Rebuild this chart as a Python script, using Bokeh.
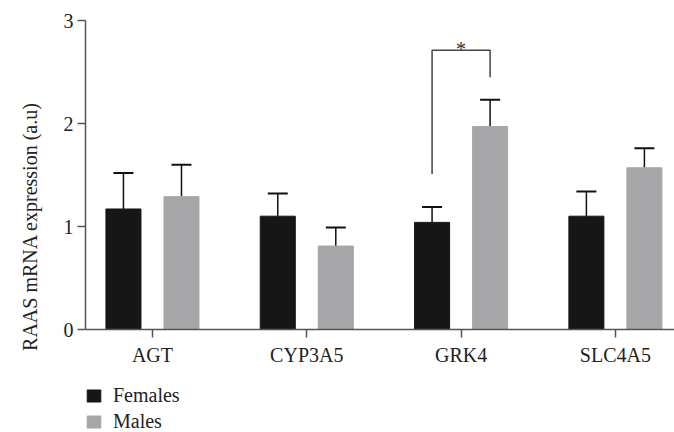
from bokeh.plotting import figure
from bokeh.models import Range1d, FixedTicker, Whisker, TeeHead, ColumnDataSource, Legend, LegendItem
from bokeh.embed import file_html
from bokeh.resources import INLINE

genes = ["AGT", "CYP3A5", "GRK4", "SLC4A5"]
females = [1.17, 1.10, 1.04, 1.10]
females_err = [1.52, 1.32, 1.19, 1.34]
males = [1.29, 0.81, 1.97, 1.57]
males_err = [1.60, 0.99, 2.23, 1.76]
y_ticks = [0, 1, 2, 3]
bracket_gene = 2
bracket_y = [1.51, 2.71, 2.71, 2.45]
sig_label = "*"

FONT = "Liberation Serif"
off = 0.188
bw = 0.227
idx = list(range(len(genes)))
xf = [i - off for i in idx]
xm = [i + off for i in idx]

p = figure(width=674, height=432, output_backend="svg", toolbar_location=None,
           x_range=Range1d(-0.434, 3.383), y_range=Range1d(-1.0, 3),
           min_border_left=85, min_border_right=0, min_border_top=20, min_border_bottom=0)
p.outline_line_color = None
p.xgrid.visible = False
p.ygrid.visible = False

rf = p.vbar(x=xf, top=females, width=bw, color="#161616")
rm = p.vbar(x=xm, top=males, width=bw, color="#a6a5a8")

for xs, lo, hi in [(xf, females, females_err), (xm, males, males_err)]:
    src = ColumnDataSource(dict(x=xs, lo=lo, hi=hi))
    w = Whisker(base="x", lower="lo", upper="hi", source=src, dimension="height",
                line_color="#111111", line_width=1.5, lower_head=None,
                upper_head=TeeHead(size=20, line_color="#111111", line_width=2))
    p.add_layout(w)

bx = [bracket_gene - off, bracket_gene - off, bracket_gene + off, bracket_gene + off]
p.line(bx, bracket_y, line_color="#444444", line_width=1.5)
p.text(x=[bracket_gene], y=[bracket_y[1]], text=[sig_label], text_align="center",
       text_baseline="alphabetic", y_offset=-1, text_font={"value": FONT},
       text_font_size="20px", text_color="#333333")

for ax in (p.xaxis[0], p.yaxis[0]):
    ax.axis_line_color = "#555555"
    ax.axis_line_width = 1.5
    ax.major_tick_line_color = "#555555"
    ax.major_tick_line_width = 1.5
    ax.major_tick_out = 8
    ax.major_tick_in = 0
    ax.minor_tick_line_color = None
    ax.major_label_text_font = FONT
    ax.major_label_text_font_size = "20px"
    ax.major_label_text_color = "#222222"

p.xaxis.ticker = FixedTicker(ticks=idx)
p.xaxis.major_label_overrides = {i: g for i, g in zip(idx, genes)}
p.xaxis.major_label_standoff = 6
p.xaxis.fixed_location = 0
p.yaxis.ticker = FixedTicker(ticks=y_ticks)
p.yaxis.bounds = (0, 3)
p.yaxis.major_label_standoff = 4
p.yaxis.axis_label = "RAAS mRNA expression (a.u)"
p.yaxis.axis_label_text_font = FONT
p.yaxis.axis_label_text_font_size = "20px"
p.yaxis.axis_label_text_font_style = "normal"
p.yaxis.axis_label_text_color = "#222222"
p.yaxis.axis_label_standoff = 20

legend = Legend(items=[LegendItem(label="Females", renderers=[rf]),
                       LegendItem(label="Males", renderers=[rm])],
                location=(0, -1), orientation="vertical",
                glyph_width=17, glyph_height=15, label_height=15, label_standoff=11,
                spacing=3, padding=0, margin=0, border_line_color=None,
                background_fill_alpha=0, label_text_font=FONT,
                label_text_font_size="20px", label_text_color="#222222")
p.add_layout(legend, "center")

open("out.html", "w").write(file_html(p, INLINE))
